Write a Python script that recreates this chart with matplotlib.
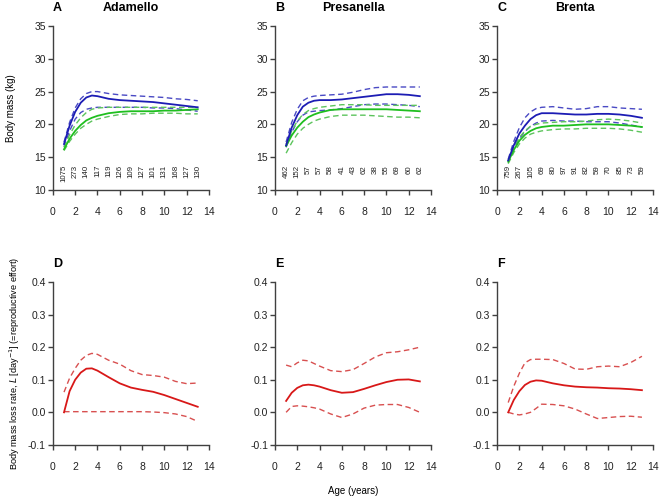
import numpy as np
import matplotlib
matplotlib.use('Agg')
import matplotlib.pyplot as plt

plt.rcParams['font.family'] = ['Liberation Sans', 'DejaVu Sans']

ages = [1, 1.5, 2, 2.5, 3, 3.5, 4, 5, 6, 7, 8, 9, 10, 11, 12, 13]
count_ages = list(range(1, 14))

areas = ['Adamello', 'Presanella', 'Brenta']
top_letters = ['A', 'B', 'C']
bottom_letters = ['D', 'E', 'F']

# sample sizes per age
counts_adamello = [1075, 273, 140, 117, 119, 126, 109, 127, 101, 131, 168, 127, 130]
counts_presanella = [462, 152, 57, 57, 58, 41, 43, 62, 38, 55, 69, 60, 62]
counts_brenta = [759, 267, 105, 69, 80, 97, 91, 82, 59, 70, 85, 73, 59]

# body mass (kg): blue = fit, upper, lower ; green = fit, upper, lower
blue_adamello = [17.0, 19.8, 21.9, 23.3, 24.1, 24.4, 24.3, 23.9, 23.7, 23.6, 23.5, 23.4, 23.2, 23.0, 22.8, 22.6]
blue_up_adamello = [17.3, 20.3, 22.5, 23.9, 24.7, 25.0, 25.0, 24.7, 24.5, 24.4, 24.3, 24.2, 24.1, 23.9, 23.8, 23.6]
blue_lo_adamello = [16.6, 19.0, 20.8, 21.8, 22.3, 22.5, 22.6, 22.6, 22.6, 22.6, 22.6, 22.5, 22.5, 22.4, 22.2, 22.0]
green_adamello = [16.2, 17.8, 19.0, 19.9, 20.6, 21.0, 21.3, 21.7, 21.9, 22.0, 22.0, 22.0, 22.1, 22.1, 22.2, 22.3]
green_up_adamello = [16.5, 18.4, 19.9, 21.0, 21.8, 22.3, 22.5, 22.6, 22.6, 22.6, 22.6, 22.6, 22.6, 22.6, 22.6, 22.6]
green_lo_adamello = [16.0, 17.4, 18.5, 19.4, 20.0, 20.5, 20.8, 21.2, 21.5, 21.6, 21.6, 21.7, 21.7, 21.7, 21.6, 21.6]

blue_presanella = [16.8, 19.5, 21.4, 22.7, 23.3, 23.6, 23.7, 23.7, 23.8, 24.0, 24.2, 24.4, 24.6, 24.6, 24.5, 24.3]
blue_up_presanella = [17.3, 20.3, 22.3, 23.6, 24.1, 24.3, 24.4, 24.5, 24.6, 24.9, 25.3, 25.6, 25.7, 25.7, 25.7, 25.7]
blue_lo_presanella = [16.5, 18.8, 20.4, 21.4, 21.9, 22.0, 22.1, 22.2, 22.4, 22.7, 23.0, 23.1, 23.1, 23.0, 22.9, 22.7]
green_presanella = [16.7, 18.3, 19.5, 20.4, 21.1, 21.5, 21.8, 22.2, 22.3, 22.3, 22.3, 22.3, 22.3, 22.2, 22.1, 22.0]
green_up_presanella = [17.0, 19.0, 20.5, 21.5, 22.1, 22.4, 22.6, 22.8, 23.0, 23.0, 23.0, 22.9, 22.9, 22.9, 22.9, 22.9]
green_lo_presanella = [15.6, 17.2, 18.5, 19.4, 20.0, 20.5, 20.8, 21.2, 21.4, 21.4, 21.4, 21.3, 21.2, 21.1, 21.1, 21.0]

blue_brenta = [14.5, 16.8, 18.6, 19.8, 20.8, 21.4, 21.7, 21.7, 21.6, 21.5, 21.5, 21.6, 21.6, 21.5, 21.3, 21.0]
blue_up_brenta = [14.7, 17.4, 19.5, 21.0, 21.9, 22.4, 22.6, 22.7, 22.5, 22.3, 22.4, 22.7, 22.7, 22.5, 22.4, 22.3]
blue_lo_brenta = [14.3, 16.3, 17.8, 18.9, 19.7, 20.2, 20.5, 20.6, 20.5, 20.5, 20.4, 20.4, 20.4, 20.2, 19.9, 19.6]
green_brenta = [14.3, 16.1, 17.5, 18.4, 19.0, 19.4, 19.6, 19.8, 19.8, 19.9, 20.0, 20.0, 20.0, 19.9, 19.8, 19.6]
green_up_brenta = [14.5, 16.6, 18.0, 19.0, 19.7, 20.0, 20.2, 20.3, 20.4, 20.4, 20.5, 20.7, 20.8, 20.7, 20.5, 20.2]
green_lo_brenta = [14.0, 15.7, 17.0, 17.9, 18.5, 18.8, 19.0, 19.2, 19.3, 19.3, 19.4, 19.4, 19.4, 19.3, 19.1, 18.8]

# body mass loss rate L (red): fit, upper, lower
loss_adamello = [0.000, 0.065, 0.100, 0.122, 0.134, 0.135, 0.128, 0.108, 0.089, 0.076, 0.069, 0.063, 0.053, 0.041, 0.029, 0.017]
loss_up_adamello = [0.062, 0.105, 0.135, 0.160, 0.175, 0.181, 0.178, 0.160, 0.148, 0.128, 0.116, 0.113, 0.108, 0.095, 0.088, 0.090]
loss_lo_adamello = [0.002, 0.002, 0.002, 0.002, 0.002, 0.002, 0.002, 0.002, 0.002, 0.002, 0.002, 0.001, -0.001, -0.005, -0.013, -0.028]

loss_presanella = [0.035, 0.060, 0.075, 0.083, 0.085, 0.083, 0.079, 0.068, 0.060, 0.062, 0.072, 0.083, 0.093, 0.100, 0.101, 0.095]
loss_up_presanella = [0.145, 0.140, 0.152, 0.160, 0.158, 0.150, 0.142, 0.128, 0.125, 0.131, 0.150, 0.170, 0.183, 0.186, 0.192, 0.200]
loss_lo_presanella = [0.000, 0.018, 0.020, 0.019, 0.017, 0.014, 0.010, -0.005, -0.016, -0.005, 0.013, 0.022, 0.024, 0.024, 0.015, 0.000]

loss_brenta = [0.000, 0.038, 0.065, 0.084, 0.094, 0.098, 0.097, 0.089, 0.083, 0.079, 0.077, 0.076, 0.074, 0.073, 0.071, 0.068]
loss_up_brenta = [0.030, 0.080, 0.120, 0.152, 0.162, 0.163, 0.163, 0.162, 0.150, 0.133, 0.132, 0.140, 0.142, 0.140, 0.153, 0.172]
loss_lo_brenta = [0.000, -0.005, -0.008, -0.005, 0.000, 0.012, 0.025, 0.024, 0.020, 0.010, -0.005, -0.019, -0.016, -0.013, -0.012, -0.015]

counts = [counts_adamello, counts_presanella, counts_brenta]
mass = [
    (blue_adamello, blue_up_adamello, blue_lo_adamello, green_adamello, green_up_adamello, green_lo_adamello),
    (blue_presanella, blue_up_presanella, blue_lo_presanella, green_presanella, green_up_presanella, green_lo_presanella),
    (blue_brenta, blue_up_brenta, blue_lo_brenta, green_brenta, green_up_brenta, green_lo_brenta),
]
loss = [
    (loss_adamello, loss_up_adamello, loss_lo_adamello),
    (loss_presanella, loss_up_presanella, loss_lo_presanella),
    (loss_brenta, loss_up_brenta, loss_lo_brenta),
]

BLUE = '#1c1cb4'
BLUE_D = '#4a4ac4'
GREEN = '#1fbf1f'
GREEN_D = '#5cc45c'
RED = '#d81818'
RED_D = '#d85050'
AXC = '#404040'


def style_axes(ax):
    for s in ['top', 'right']:
        ax.spines[s].set_visible(False)
    for s in ['left', 'bottom']:
        ax.spines[s].set_color(AXC)
        ax.spines[s].set_linewidth(1.0)
    ax.tick_params(direction='out', length=3.5, width=1.0, color=AXC, labelsize=7.5, labelcolor='#222222')
    ax.tick_params(axis='x', pad=9)
    ax.tick_params(axis='y', pad=1.5)
    ax.set_xlim(0, 14)
    ax.set_xticks(np.arange(0, 15, 2))


fig = plt.figure(figsize=(6.61, 5.01), dpi=100)
lefts = [0.080, 0.416, 0.752]
w = 0.236

for i in range(3):
    # top row: body mass
    ax = fig.add_axes([lefts[i], 0.621, w, 0.327])
    style_axes(ax)
    b, bu, bl, g, gu, gl = mass[i]
    ax.plot(ages, bu, '--', color=BLUE_D, lw=1.0, dashes=(4, 2.5))
    ax.plot(ages, bl, '--', color=BLUE_D, lw=1.0, dashes=(4, 2.5))
    ax.plot(ages, gu, '--', color=GREEN_D, lw=1.0, dashes=(4, 2.5))
    ax.plot(ages, gl, '--', color=GREEN_D, lw=1.0, dashes=(4, 2.5))
    ax.plot(ages, g, '-', color=GREEN, lw=1.3)
    ax.plot(ages, b, '-', color=BLUE, lw=1.3)
    ax.set_ylim(10, 35)
    ax.set_yticks(np.arange(10, 36, 5))
    for a, n in zip(count_ages, counts[i]):
        ax.text(a, 13.8, str(n), rotation=90, ha='center', va='top', fontsize=5.7, color='#222222')
    ax.text(0.0, 1.11, top_letters[i], transform=ax.transAxes, fontsize=9, fontweight='bold', ha='left', va='center')
    ax.text(0.5, 1.11, areas[i], transform=ax.transAxes, fontsize=9, fontweight='bold', ha='center', va='center')
    if i == 0:
        ax.set_ylabel('Body mass (kg)', fontsize=7, labelpad=13)

    # bottom row: loss rate
    ax2 = fig.add_axes([lefts[i], 0.112, w, 0.325])
    style_axes(ax2)
    m, mu, ml = loss[i]
    ax2.plot(ages, mu, '--', color=RED_D, lw=1.0, dashes=(4, 2.5))
    ax2.plot(ages, ml, '--', color=RED_D, lw=1.0, dashes=(4, 2.5))
    ax2.plot(ages, m, '-', color=RED, lw=1.3)
    ax2.set_ylim(-0.1, 0.4)
    ax2.set_yticks(np.arange(-0.1, 0.41, 0.1))
    ax2.set_yticklabels(['-0.1', '0.0', '0.1', '0.2', '0.3', '0.4'])
    ax2.text(0.0, 1.11, bottom_letters[i], transform=ax2.transAxes, fontsize=9, fontweight='bold', ha='left', va='center')
    if i == 0:
        ax2.set_ylabel(r'Body mass loss rate, $\it{L}$ [day$^{-1}$] (=reproductive effort)', fontsize=6.6, labelpad=4)
    if i == 1:
        ax2.set_xlabel('Age (years)', fontsize=7, labelpad=10)

fig.savefig('out.png', dpi=100)
